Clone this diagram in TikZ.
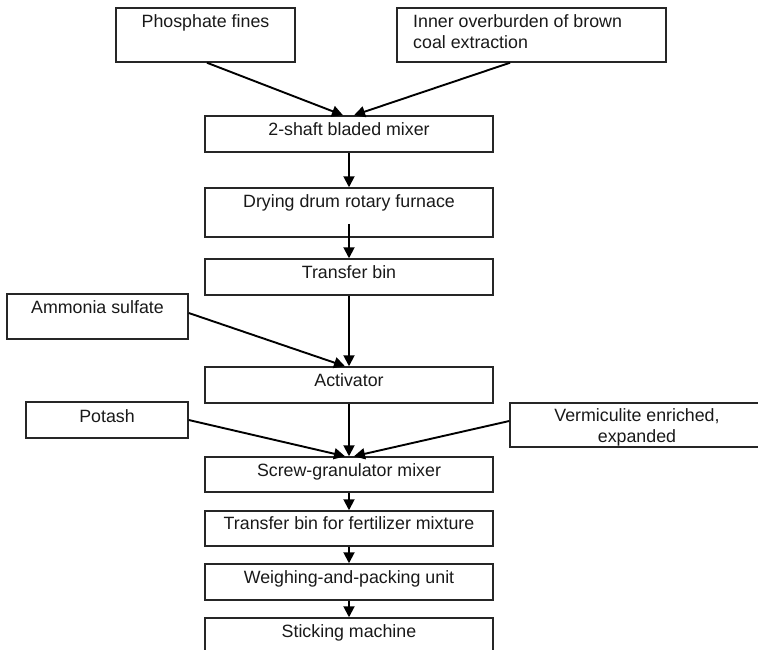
\documentclass[tikz,border=0pt]{standalone}
\usepackage{fontspec}
\setmainfont{Liberation Sans}
\usetikzlibrary{arrows.meta}
\begin{document}
\begin{tikzpicture}[x=1pt,y=-1pt,
  box/.style={draw=black!85, line width=1.5pt, rectangle, inner sep=0pt, fill=none},
  lbl/.style={inner sep=0pt, anchor=base, font=\fontsize{17.8}{21}\selectfont, text=black!90},
  arr/.style={draw=black, line width=1.9pt, -{Triangle[length=11pt,width=11pt]}}]
\useasboundingbox (0,0) rectangle (758,649);
% boxes
\node[box, minimum width=179pt, minimum height=54pt] (phos) at (205.5,35) {};
\node[box, minimum width=269pt, minimum height=54pt] (inner) at (531.5,35) {};
\node[box, minimum width=288pt, minimum height=36pt] (mix) at (349,134) {};
\node[box, minimum width=288pt, minimum height=49pt] (dry) at (349,212.5) {};
\node[box, minimum width=288pt, minimum height=36pt] (tb) at (349,277) {};
\node[box, minimum width=181pt, minimum height=45pt] (amm) at (97.5,316.5) {};
\node[box, minimum width=288pt, minimum height=36pt] (act) at (349,385) {};
\node[box, minimum width=162pt, minimum height=36pt] (pot) at (107,420) {};
\node[box, minimum width=254pt, minimum height=44pt] (verm) at (637,425) {};
\node[box, minimum width=288pt, minimum height=35pt] (scr) at (349,474.5) {};
\node[box, minimum width=288pt, minimum height=35pt] (tb2) at (349,528.5) {};
\node[box, minimum width=288pt, minimum height=36pt] (wp) at (349,582) {};
\node[box, minimum width=288pt, minimum height=42pt] (stk) at (349,639) {};
% labels
\node[lbl] (phost) at (205.5,27) {Phosphate fines};
\node[lbl, anchor=base west] (innt1) at (413,27) {Inner overburden of brown};
\node[lbl, anchor=base west] (innt2) at (413,48) {coal extraction};
\node[lbl] (mixt) at (349,135) {2-shaft bladed mixer};
\node[lbl] (dryt) at (349,207) {Drying drum rotary furnace};
\node[lbl] (tbt) at (349,278) {Transfer bin};
\node[lbl] (ammt) at (97.5,313) {Ammonia sulfate};
\node[lbl] (actt) at (349,386) {Activator};
\node[lbl] (pott) at (107,422) {Potash};
\node[lbl] (vermt1) at (637,421) {Vermiculite enriched,};
\node[lbl] (vermt2) at (637,442) {expanded};
\node[lbl] (scrt) at (349,476) {Screw-granulator mixer};
\node[lbl] (tb2t) at (349,529) {Transfer bin for fertilizer mixture};
\node[lbl] (wpt) at (349,583) {Weighing-and-packing unit};
\node[lbl] (stkt) at (349,637) {Sticking machine};
% connectors
\draw[arr] ([xshift=1.5pt]phos.south) -- ([xshift=-6pt]mix.north);
\draw[arr] ([xshift=-21.5pt]inner.south) -- ([xshift=5pt]mix.north);
\draw[arr] (mix.south) -- (dry.north);
\draw[arr] ([yshift=14pt]dry.south) -- (tb.north);
\draw[arr] (tb.south) -- (act.north);
\draw[arr] ([yshift=3.5pt]amm.east) -- ([xshift=-4pt]act.north);
\draw[arr] (act.south) -- (scr.north);
\draw[arr] (pot.east) -- ([xshift=-4pt]scr.north);
\draw[arr] ([yshift=4pt]verm.west) -- ([xshift=5pt]scr.north);
\draw[arr] (scr.south) -- (tb2.north);
\draw[arr] (tb2.south) -- (wp.north);
\draw[arr] (wp.south) -- (stk.north);
\end{tikzpicture}
\end{document}
